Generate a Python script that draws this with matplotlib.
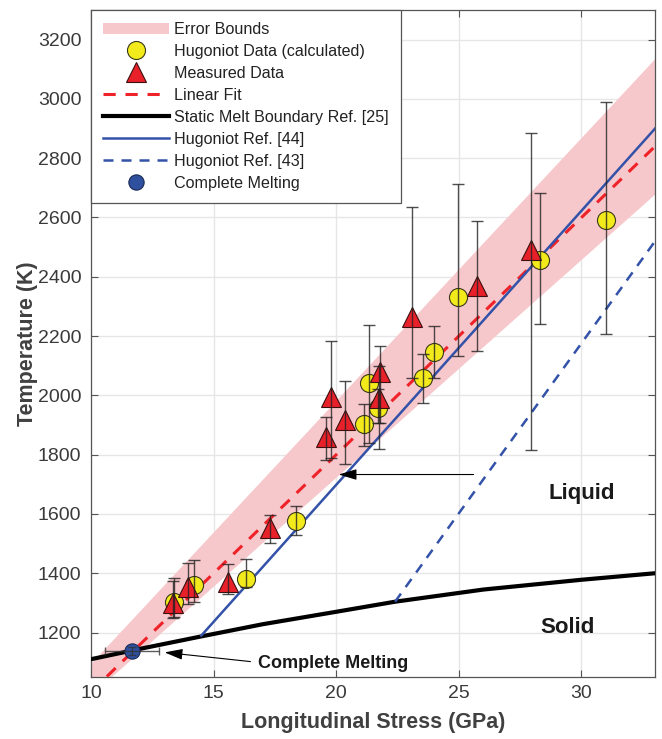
import numpy as np
import matplotlib
matplotlib.use('Agg')
import matplotlib.pyplot as plt
from matplotlib.patches import Patch
from matplotlib.lines import Line2D

plt.rcParams['font.family'] = ['Liberation Sans', 'DejaVu Sans']

# calculated Hugoniot points: stress (GPa), temperature (K), error bar ends
hug_x = [13.37, 14.19, 16.3, 18.37, 21.12, 21.33, 21.72, 23.55, 24.0, 24.96, 28.3, 30.98]
hug_t = [1304, 1361, 1380, 1576, 1903, 2041, 1959, 2057, 2145, 2333, 2457, 2592]
hug_lo = [1254, 1304, 1355, 1529, 1830, 1838, 1906, 1973, 2057, 2134, 2242, 2208]
hug_hi = [1383, 1445, 1447, 1627, 1972, 2237, 2020, 2141, 2235, 2712, 2682, 2988]

# measured points
meas_x = [13.33, 13.96, 15.6, 17.28, 19.6, 19.8, 20.37, 21.76, 21.79, 23.1, 25.73, 27.93]
meas_t = [1299, 1355, 1372, 1553, 1861, 1994, 1917, 1992, 2078, 2266, 2370, 2491]
meas_lo = [1248, 1297, 1330, 1503, 1783, 1789, 1767, 1819, 1906, 2060, 2148, 1815]
meas_hi = [1375, 1436, 1430, 1597, 1926, 2183, 2048, 2100, 2167, 2635, 2588, 2884]

# complete melting point
melt_x, melt_t = 11.67, 1138
melt_xlo, melt_xhi = 10.56, 12.78
melt_terr = 13

# linear fit T = a*P + b and its error band
fit_a, fit_b = 80.0, 200.0
band_x = [10, 33]
band_lo = [990, 2680]
band_hi = [1097, 3137]

# static melt boundary ref [25]
melt_line_x = [10, 12, 14.5, 17, 20, 22.4, 26, 30, 33]
melt_line_t = [1110, 1145, 1187, 1228, 1270, 1304, 1345, 1378, 1400]

# Hugoniot refs [44] and [43]
ref44_x = [14.5, 33]
ref44_t = [1190, 2900]
ref43_x = [22.4, 33]
ref43_t = [1304, 2520]

fig = plt.figure(figsize=(6.62, 7.39), dpi=100)
ax = fig.add_axes([0.1375, 0.0839, 0.852, 0.9026])

ax.fill_between(band_x, band_lo, band_hi, color='#f7c8cb', lw=0, zorder=1)
fx = np.array([10, 33])
ax.plot(fx, fit_a * fx + fit_b, '--', color='#ee2228', lw=2.2, dashes=(4, 3.2), zorder=3)
ax.plot(melt_line_x, melt_line_t, color='k', lw=3, zorder=3)
ax.plot(ref44_x, ref44_t, color='#3352a8', lw=1.8, zorder=3)
ax.plot(ref43_x, ref43_t, '--', color='#3352a8', lw=1.8, dashes=(4, 3.2), zorder=3)

ax.plot(hug_x, hug_t, 'o', ms=13, mfc='#f2ea1a', mec='#3a3a1a', mew=0.8, zorder=4)
ax.plot(meas_x, meas_t, '^', ms=15, mfc='#e8202a', mec='#3a1010', mew=0.8, zorder=5)

hug_err = [np.array(hug_t) - np.array(hug_lo), np.array(hug_hi) - np.array(hug_t)]
meas_err = [np.array(meas_t) - np.array(meas_lo), np.array(meas_hi) - np.array(meas_t)]
ax.errorbar(hug_x, hug_t, yerr=hug_err, fmt='none', ecolor='#222222', elinewidth=1,
            capsize=4.5, capthick=1, alpha=0.8, zorder=6)
ax.errorbar(meas_x, meas_t, yerr=meas_err, fmt='none', ecolor='#222222', elinewidth=1,
            capsize=4.5, capthick=1, alpha=0.8, zorder=6)

ax.plot([melt_x], [melt_t], 'o', ms=11, mfc='#2f4f9f', mec='#1a2a55', mew=0.8, zorder=7)
ax.errorbar([melt_x], [melt_t], xerr=[[melt_x - melt_xlo], [melt_xhi - melt_x]],
            yerr=melt_terr, fmt='none', ecolor='#333333', elinewidth=1, capsize=3,
            alpha=0.8, zorder=8)

# annotations
arrow = dict(arrowstyle='-|>,head_length=1.1,head_width=0.33',
             color='k', lw=0.8, shrinkA=0, shrinkB=0)
ax.annotate('', xy=(13.0, 1133), xytext=(16.5, 1102), arrowprops=arrow, zorder=9)
ax.text(16.8, 1097, 'Complete Melting', fontsize=13, fontweight='bold',
        color='#1a1a1a', va='center', ha='left', zorder=9)
ax.annotate('', xy=(20.1, 1733), xytext=(25.6, 1733), arrowprops=arrow, zorder=9)
ax.text(30.0, 1668, 'Liquid', fontsize=16, fontweight='bold', color='#1a1a1a',
        ha='center', va='center')
ax.text(29.43, 1216, 'Solid', fontsize=16, fontweight='bold', color='#1a1a1a',
        ha='center', va='center')

ax.set_xlim(10, 33)
ax.set_ylim(1050, 3300)
ax.set_xticks([10, 15, 20, 25, 30])
ax.set_yticks(np.arange(1200, 3201, 200))
ax.grid(True, color='#e6e6e6', lw=1)
ax.set_axisbelow(True)
ax.tick_params(direction='in', top=True, right=True, length=5, width=0.8,
               labelsize=14, labelcolor='#3a3a3a', color='#555555')
ax.tick_params(axis='y', pad=7)
ax.tick_params(axis='x', pad=6)
for s in ax.spines.values():
    s.set_color('#555555')
    s.set_linewidth(0.9)
ax.set_xlabel('Longitudinal Stress (GPa)', fontsize=15.5, fontweight='bold',
              color='#404040', labelpad=7)
ax.set_ylabel('Temperature (K)', fontsize=15.5, fontweight='bold',
              color='#404040', labelpad=0)

handles = [
    Patch(facecolor='#f7c8cb', edgecolor='none'),
    Line2D([], [], ls='none', marker='o', ms=13, mfc='#f2ea1a', mec='#3a3a1a', mew=0.8),
    Line2D([], [], ls='none', marker='^', ms=15, mfc='#e8202a', mec='#3a1010', mew=0.8),
    Line2D([], [], ls='--', color='#ee2228', lw=2.2, dashes=(4, 3.2)),
    Line2D([], [], color='k', lw=3),
    Line2D([], [], color='#3352a8', lw=1.8),
    Line2D([], [], ls='--', color='#3352a8', lw=1.8, dashes=(4, 3.2)),
    Line2D([], [], ls='none', marker='o', ms=11, mfc='#2f4f9f', mec='#1a2a55', mew=0.8),
]
labels = ['Error Bounds', 'Hugoniot Data (calculated)', 'Measured Data', 'Linear Fit',
          'Static Melt Boundary Ref. [25]', 'Hugoniot Ref. [44]', 'Hugoniot Ref. [43]',
          'Complete Melting']
leg = ax.legend(handles, labels, loc='upper left', bbox_to_anchor=(0, 1), borderaxespad=0,
                fontsize=11.6, handlelength=4.1, handletextpad=0.3, labelspacing=0.43,
                fancybox=False, framealpha=1, edgecolor='#555555', borderpad=0.75)
leg.get_frame().set_linewidth(0.9)
leg.set_zorder(20)
for t in leg.get_texts():
    t.set_color('#222222')

fig.savefig('out.png', dpi=100)
